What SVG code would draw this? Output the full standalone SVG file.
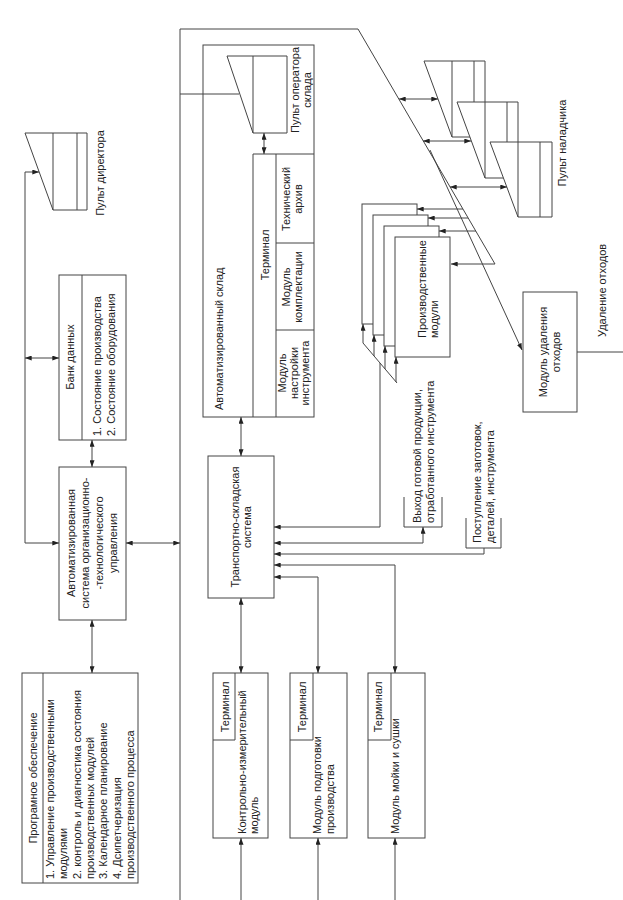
<svg xmlns="http://www.w3.org/2000/svg" width="623" height="900" viewBox="0 0 623 900">
<defs>
<style>
.ln{fill:none;stroke:#444;stroke-width:1}
.bx{fill:#fff;stroke:#444;stroke-width:1}
.t{font-family:"Liberation Sans",Arial,sans-serif;font-size:11px;fill:#222}
.m{text-anchor:middle}
</style>
<marker id="ah" viewBox="0 0 8 6" refX="8" refY="3" markerWidth="7" markerHeight="5" markerUnits="userSpaceOnUse" orient="auto-start-reverse"><path d="M0,0L8,3L0,6z" fill="#222"/></marker>
</defs>
<rect width="623" height="900" fill="#fff"/>

<g id="po">
<rect class="bx" x="22" y="673" width="116" height="210"/>
<path class="ln" d="M43,673V883"/>
<text class="t m" transform="translate(37,778) rotate(-90)">Програмное обеспечение</text>
<text class="t" transform="translate(54,879) rotate(-90)"><tspan x="0" y="0">1. Управление производственными</tspan><tspan x="0" y="13.3">модулями</tspan><tspan x="0" y="26.6">2. контроль и диагностика состояния</tspan><tspan x="0" y="40">производственных модулей</tspan><tspan x="0" y="53.3">3. Календарное планирование</tspan><tspan x="0" y="66.6">4. Дсипетчеризация</tspan><tspan x="0" y="80">производственного процесса</tspan></text>
</g>

<g id="asotu">
<rect class="bx" x="59" y="467" width="67" height="153"/>
<text class="t m" transform="translate(75,543) rotate(-90)"><tspan x="0" y="0">Автоматизированная</tspan><tspan x="0" y="14">система организационно-</tspan><tspan x="0" y="28">-технологического</tspan><tspan x="0" y="42">управления</tspan></text>
</g>

<g id="bank">
<rect class="bx" x="59" y="275" width="67" height="165"/>
<path class="ln" d="M82,275V440"/>
<text class="t m" transform="translate(74,357) rotate(-90)">Банк данных</text>
<text class="t" transform="translate(101,436) rotate(-90)"><tspan x="0" y="0">1. Состояние производства</tspan><tspan x="0" y="14">2. Состояние оборудования</tspan></text>
</g>

<g id="director">
<path class="bx" d="M25,133H87V210H53Z"/>
<path class="ln" d="M53,133V210M77,133V210"/>
<text class="t m" transform="translate(104,173) rotate(-90)">Пульт директора</text>
</g>

<g id="sklad">
<rect class="bx" x="203" y="45" width="111" height="372"/>
<path class="ln" d="M253,154V417M253,154H314M276,154V417M276,243H314M276,330H314"/>
<text class="t" transform="translate(223,410) rotate(-90)">Автоматизированный склад</text>
<text class="t m" transform="translate(269,255) rotate(-90)">Терминал</text>
<text class="t m" transform="translate(290,199) rotate(-90)"><tspan x="0" y="0">Технический</tspan><tspan x="0" y="12">архив</tspan></text>
<text class="t m" transform="translate(290,287) rotate(-90)"><tspan x="0" y="0">Модуль</tspan><tspan x="0" y="12">комплектации</tspan></text>
<text class="t m" transform="translate(286,373) rotate(-90)"><tspan x="0" y="0">Модуль</tspan><tspan x="0" y="11.5">настройки</tspan><tspan x="0" y="23">инструмента</tspan></text>
</g>

<g id="operator">
<path class="bx" d="M227,56H287V133H253Z"/>
<path class="ln" d="M253,56V133"/>
<text class="t m" transform="translate(299,90) rotate(-90)"><tspan x="0" y="0">Пульт оператора</tspan><tspan x="0" y="12">склада</tspan></text>
</g>

<g id="tss">
<rect class="bx" x="208" y="456" width="66" height="142"/>
<text class="t m" transform="translate(239,527) rotate(-90)"><tspan x="0" y="0">Транспортно-складская</tspan><tspan x="0" y="12">система</tspan></text>
</g>

<g id="kim">
<rect class="bx" x="213" y="673" width="55" height="165"/>
<path class="ln" d="M235,673V740H213"/>
<text class="t m" transform="translate(229,707) rotate(-90)">Терминал</text>
<text class="t" transform="translate(246,834) rotate(-90)"><tspan x="0" y="0">Контрольно-измерительный</tspan><tspan x="0" y="12">модуль</tspan></text>
</g>

<g id="podgotovka">
<rect class="bx" x="290" y="673" width="57" height="165"/>
<path class="ln" d="M313,673V740H290"/>
<text class="t m" transform="translate(306,707) rotate(-90)">Терминал</text>
<text class="t" transform="translate(321,834) rotate(-90)"><tspan x="0" y="0">Модуль подготовки</tspan><tspan x="0" y="13">производства</tspan></text>
</g>

<g id="moyka">
<rect class="bx" x="368" y="673" width="57" height="165"/>
<path class="ln" d="M391,673V740H368"/>
<text class="t m" transform="translate(382,707) rotate(-90)">Терминал</text>
<text class="t" transform="translate(399,834) rotate(-90)">Модуль мойки и сушки</text>
</g>

<g id="modules">
<rect class="bx" x="362" y="204" width="55" height="120"/>
<rect class="bx" x="373" y="215" width="55" height="120"/>
<rect class="bx" x="384" y="226" width="55" height="120"/>
<rect class="bx" x="395" y="237" width="55" height="120"/>
<text class="t" transform="translate(426,338) rotate(-90)"><tspan x="0" y="0">Производственные</tspan><tspan x="0" y="12">модули</tspan></text>
</g>

<g id="naladchik">
<path class="bx" d="M424,61H485V137H452Z"/>
<path class="ln" d="M452,61V137M474,61V137"/>
<path class="bx" d="M457,102H518V178H485Z"/>
<path class="ln" d="M485,102V178M507,102V178"/>
<path class="bx" d="M490,142H552V217H518Z"/>
<path class="ln" d="M518,142V217M540,142V217"/>
<text class="t m" transform="translate(566,143) rotate(-90)">Пульт наладчика</text>
</g>

<g id="waste">
<rect class="bx" x="523" y="292" width="54" height="120"/>
<text class="t m" transform="translate(547,352) rotate(-90)"><tspan x="0" y="0">Модуль удаления</tspan><tspan x="0" y="13">отходов</tspan></text>
</g>

<g id="label-waste">
<text class="t" transform="translate(606,337) rotate(-90)">Удаление отходов</text>
</g>

<g id="label-out">
<path class="ln" d="M404,497V527H442V497"/>
<text class="t" transform="translate(421,523) rotate(-90)"><tspan x="0" y="0">Выход готовой продукции,</tspan><tspan x="0" y="13">отработанного инструмента</tspan></text>
</g>

<g id="label-in">
<path class="ln" d="M466,518V548H501V518"/>
<text class="t" transform="translate(481,543) rotate(-90)"><tspan x="0" y="0">Поступление заготовок,</tspan><tspan x="0" y="13">деталей, инструмента</tspan></text>
</g>

<g id="connectors" class="ln">
<path d="M180,900V29H358L495,264H451" marker-end="url(#ah)"/>
<path d="M430,150L522,350" marker-end="url(#ah)"/>
<path d="M399,99H438" marker-start="url(#ah)" marker-end="url(#ah)"/>
<path d="M423,141H471" marker-start="url(#ah)" marker-end="url(#ah)"/>
<path d="M450,187H507" marker-start="url(#ah)" marker-end="url(#ah)"/>
<path d="M463,209H417" marker-end="url(#ah)"/>
<path d="M468,218H428" marker-end="url(#ah)"/>
<path d="M476,231H439" marker-end="url(#ah)"/>
<path d="M39,172H25V543H59" marker-start="url(#ah)" marker-end="url(#ah)"/>
<path d="M25,358H59" marker-start="url(#ah)" marker-end="url(#ah)"/>
<path d="M92,440V467" marker-start="url(#ah)" marker-end="url(#ah)"/>
<path d="M126,543H180" marker-start="url(#ah)" marker-end="url(#ah)"/>
<path d="M92,620V673" marker-start="url(#ah)" marker-end="url(#ah)"/>
<path d="M241,417V456" marker-start="url(#ah)" marker-end="url(#ah)"/>
<path d="M264,133V154" marker-start="url(#ah)" marker-end="url(#ah)"/>
<path d="M180,94H239"/>
<path d="M241,598V673" marker-start="url(#ah)" marker-end="url(#ah)"/>
<path d="M241,900V838" marker-end="url(#ah)"/>
<path d="M318,900V838" marker-end="url(#ah)"/>
<path d="M395,900V838" marker-end="url(#ah)"/>
<path d="M380,363V527H274" marker-end="url(#ah)"/>
<path d="M274,543H423V527" marker-start="url(#ah)" marker-end="url(#ah)"/>
<path d="M484,548V554H274" marker-end="url(#ah)"/>
<path d="M274,565H395V673" marker-start="url(#ah)" marker-end="url(#ah)"/>
<path d="M274,577H318V673" marker-start="url(#ah)" marker-end="url(#ah)"/>
<path d="M363,343L397,383"/>
<path d="M363,343V324" marker-end="url(#ah)"/>
<path d="M374,356V335" marker-end="url(#ah)"/>
<path d="M385,369V346" marker-end="url(#ah)"/>
<path d="M396,382V357" marker-end="url(#ah)"/>
<path d="M577,352H623"/>
</g>
</svg>
